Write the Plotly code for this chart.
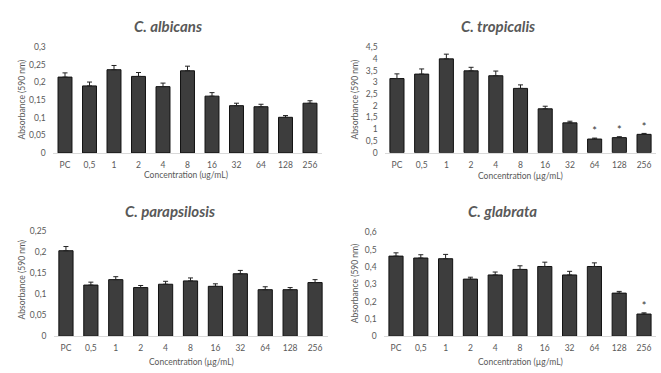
import plotly.graph_objects as go

categories = ["PC", "0,5", "1", "2", "4", "8", "16", "32", "64", "128", "256"]

albicans_vals = [0.215, 0.190, 0.236, 0.217, 0.188, 0.233, 0.161, 0.134, 0.131, 0.101, 0.141]
albicans_err = [0.012, 0.011, 0.012, 0.011, 0.010, 0.013, 0.010, 0.007, 0.007, 0.005, 0.007]

tropicalis_vals = [3.16, 3.35, 4.00, 3.49, 3.28, 2.74, 1.87, 1.27, 0.58, 0.64, 0.78]
tropicalis_err = [0.20, 0.22, 0.20, 0.15, 0.20, 0.15, 0.11, 0.07, 0.04, 0.04, 0.04]
tropicalis_sig = ["", "", "", "", "", "", "", "", "*", "*", "*"]

parapsilosis_vals = [0.204, 0.122, 0.135, 0.116, 0.124, 0.132, 0.119, 0.149, 0.111, 0.111, 0.128]
parapsilosis_err = [0.010, 0.007, 0.007, 0.005, 0.007, 0.007, 0.006, 0.008, 0.007, 0.005, 0.007]

glabrata_vals = [0.463, 0.452, 0.448, 0.330, 0.354, 0.386, 0.403, 0.354, 0.403, 0.249, 0.128]
glabrata_err = [0.019, 0.019, 0.025, 0.011, 0.017, 0.021, 0.025, 0.021, 0.021, 0.010, 0.007]
glabrata_sig = ["", "", "", "", "", "", "", "", "", "", "*"]

titles = ["C. albicans", "C. tropicalis", "C. parapsilosis", "C. glabrata"]
y_ticks = [
    ([0, 0.05, 0.1, 0.15, 0.2, 0.25, 0.3], ["0", "0,05", "0,1", "0,15", "0,2", "0,25", "0,3"]),
    ([0, 0.5, 1, 1.5, 2, 2.5, 3, 3.5, 4, 4.5], ["0", "0,5", "1", "1,5", "2", "2,5", "3", "3,5", "4", "4,5"]),
    ([0, 0.05, 0.1, 0.15, 0.2, 0.25], ["0", "0,05", "0,1", "0,15", "0,2", "0,25"]),
    ([0, 0.1, 0.2, 0.3, 0.4, 0.5, 0.6], ["0", "0,1", "0,2", "0,3", "0,4", "0,5", "0,6"]),
]
x_titles = ["Concentration (ug/mL)", "Concentration (µg/mL)", "Concentration (µg/mL)", "Concentration (µg/mL)"]
y_title = "Absorbance (590 nm)"

W, H = 661, 373
GRAY = "#595959"
FONT = "Lato"

# pixel layout of each panel: (left, right, bottom, top)
panels = [
    (52.75, 322.25, 152.0, 43.3),
    (384.6, 656.4, 151.7, 43.3),
    (53.5, 327.5, 340.3, 232.7),
    (383.6, 656.4, 340.3, 233.7),
]
title_pos = [(168, 22), (498, 22), (170, 212), (502, 212)]
ytitle_pos = [(22, 97), (355, 97), (22, 282), (355, 286)]
xtitle_pos = [(186, 175), (520, 176), (191, 367), (520, 367)]

data = [
    (albicans_vals, albicans_err, None),
    (tropicalis_vals, tropicalis_err, tropicalis_sig),
    (parapsilosis_vals, parapsilosis_err, None),
    (glabrata_vals, glabrata_err, glabrata_sig),
]

fig = go.Figure()
annotations = []
for i, (vals, errs, sig) in enumerate(data):
    n = i + 1
    xa = "x" if n == 1 else f"x{n}"
    ya = "y" if n == 1 else f"y{n}"
    fig.add_trace(go.Bar(
        x=categories, y=vals, xaxis=xa, yaxis=ya, width=0.57,
        marker=dict(color="#3d3d3d", line=dict(color="#111111", width=1)),
        error_y=dict(type="data", array=errs, arrayminus=[0] * len(errs), symmetric=False,
                     color="#222222", thickness=1, width=2.5),
        showlegend=False, hoverinfo="x+y",
    ))
    if sig is not None:
        fig.add_trace(go.Scatter(
            x=categories, y=[v + e for v, e in zip(vals, errs)], xaxis=xa, yaxis=ya,
            mode="text", text=sig, textposition="top center",
            textfont=dict(size=11, color="#333333", family=FONT),
            showlegend=False, hoverinfo="skip",
        ))
    left, right, bottom, top = panels[i]
    tv, tt = y_ticks[i]
    xkey = "xaxis" if n == 1 else f"xaxis{n}"
    ykey = "yaxis" if n == 1 else f"yaxis{n}"
    fig.update_layout(**{
        xkey: dict(domain=[left / W, right / W], anchor=ya, type="category",
                   range=[-0.5, len(categories) - 0.5],
                   showline=True, linecolor="#d9d9d9", linewidth=1, ticks="",
                   tickfont=dict(size=8.5, color=GRAY, family=FONT), showgrid=False,
                   ticklabelstandoff=4, fixedrange=True),
        ykey: dict(domain=[1 - bottom / H, 1 - top / H], anchor=xa,
                   range=[0, tv[-1]], tickvals=tv, ticktext=tt,
                   showline=False, showgrid=False, zeroline=False, ticks="",
                   tickfont=dict(size=8.5, color=GRAY, family=FONT),
                   ticklabelstandoff=6, fixedrange=True),
    })
    tx, ty = title_pos[i]
    annotations.append(dict(x=tx / W, y=1 - ty / H, xref="paper", yref="paper",
                            text=f"<b><i>{titles[i]}</i></b>", showarrow=False,
                            font=dict(size=15, color=GRAY, family=FONT),
                            xanchor="center", yanchor="middle"))
    yx, yy = ytitle_pos[i]
    annotations.append(dict(x=yx / W, y=1 - yy / H, xref="paper", yref="paper",
                            text=y_title, textangle=-90, showarrow=False,
                            font=dict(size=8.5, color=GRAY, family=FONT),
                            xanchor="center", yanchor="middle"))
    xx, xy = xtitle_pos[i]
    annotations.append(dict(x=xx / W, y=1 - xy / H, xref="paper", yref="paper",
                            text=x_titles[i], showarrow=False,
                            font=dict(size=8.5, color=GRAY, family=FONT),
                            xanchor="center", yanchor="middle"))

fig.update_layout(
    width=W, height=H, margin=dict(l=0, r=0, t=0, b=0),
    paper_bgcolor="white", plot_bgcolor="white",
    annotations=annotations, barmode="overlay",
    font=dict(family=FONT, color=GRAY),
)

fig.write_html("out.html", config={"displayModeBar": False},
               post_script="document.body.style.margin='0px';document.body.style.overflow='hidden';")
